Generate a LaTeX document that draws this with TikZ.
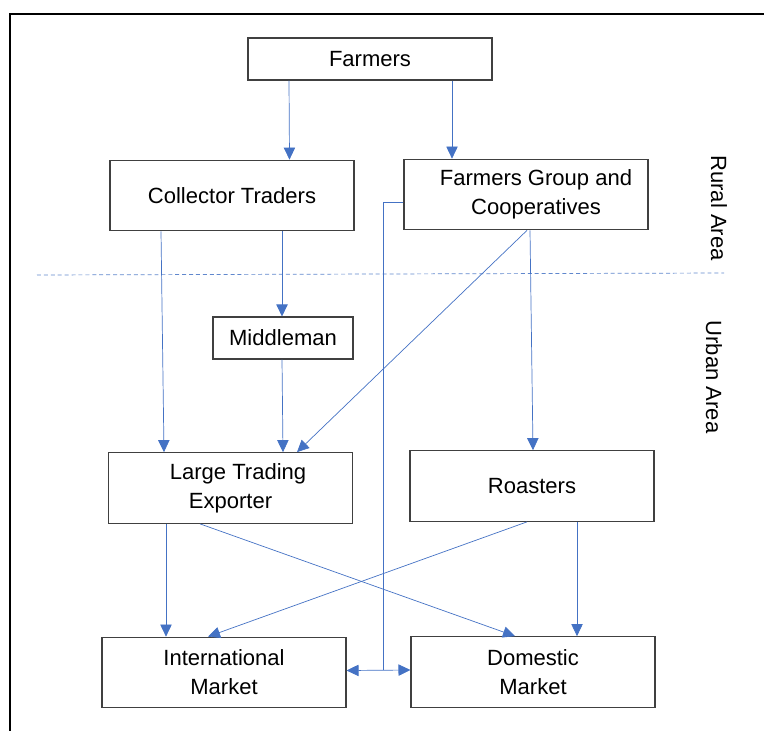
\documentclass[tikz,border=0pt]{standalone}
\usepackage{fontspec}
\setmainfont{Liberation Sans}
\usetikzlibrary{arrows.meta,calc}
\definecolor{flowblue}{HTML}{4472C4}
\tikzset{
  actor/.style={draw=black!75, line width=0.9pt, minimum width=7.32cm, minimum height=2.12cm,
    inner sep=0pt, align=center, font=\fontsize{18.8}{24.7}\selectfont},
  flow/.style={draw=flowblue, line width=0.6pt, -{Triangle[length=0.36cm,width=0.34cm]}},
  area/.style={rotate=-90, font=\fontsize{18.8}{24.7}\selectfont}
}
\begin{document}
\begin{tikzpicture}[x=0.03cm,y=-0.03cm]
\useasboundingbox (0,0) rectangle (764,731);
\draw[line width=1pt] (764,14) -- (10,14) -- (10,731);
\draw[flowblue!85, line width=0.6pt, dash pattern=on 3.4pt off 2.5pt] (37,275) -- (724,273);
\node[actor, minimum height=1.26cm] (farmers) at (370,59) {Farmers};
\node[actor] (collector) at (232,195.5) {Collector Traders};
\node[actor] (coop) at (526,194.5) {\hspace*{0.6cm}Farmers Group and\\\hspace*{0.6cm}Cooperatives};
\node[actor, minimum width=4.2cm, minimum height=1.26cm] (middleman) at (283,338) {Middleman};
\node[actor] (exporter) at (230.5,488) {\hspace*{0.45cm}Large Trading\\Exporter};
\node[actor] (roasters) at (532,486) {Roasters};
\node[actor] (intl) at (224,672.5) {International\\Market};
\node[actor] (domestic) at (533,672) {Domestic\\Market};
\node[area] (rural) at (719,208) {Rural Area};
\node[area] (urban) at (714,377) {Urban Area};
\draw[flow] ($(farmers.south)+(-81,0)$) -- ($(collector.north)+(57.5,0)$);
\draw[flow] ($(farmers.south)+(82,0)$) -- ($(coop.north)+(-74,0)$);
\draw[flow] ($(collector.south)+(-71,0)$) -- ($(exporter.north)+(-66.5,0)$);
\draw[flow] ($(collector.south)+(50,0)$) -- ($(middleman.north)+(-1,0)$);
\draw[flow] ($(middleman.south)+(-1,0)$) -- ($(exporter.north)+(52.5,0)$);
\draw[flow] ($(coop.south)+(1,0)$) -- ($(exporter.north)+(66.5,0)$);
\draw[flow] ($(coop.south)+(4,0)$) -- ($(roasters.north)+(1,0)$);
\draw[flow] ($(exporter.south)+(-64.5,0)$) -- ($(intl.north)+(-58,0)$);
\draw[flow] ($(exporter.south)+(-30.5,0)$) -- ($(domestic.north)+(-18,0)$);
\draw[flow] ($(roasters.south)+(-5,0)$) -- ($(intl.north)+(-16,0)$);
\draw[flow] ($(roasters.south)+(45,0)$) -- ($(domestic.north)+(44,0)$);
\coordinate (junc) at ($(intl.east)!0.58!(domestic.west)+(0,-2)$);
\draw[flowblue, line width=0.6pt] ($(coop.west)+(0,7.5)$) -| (junc);
\draw[flow, {Triangle[length=0.36cm,width=0.34cm]}-{Triangle[length=0.36cm,width=0.34cm]}] ($(intl.east)+(0,-2)$) -- ($(domestic.west)+(0,-2)$);
\end{tikzpicture}
\end{document}
